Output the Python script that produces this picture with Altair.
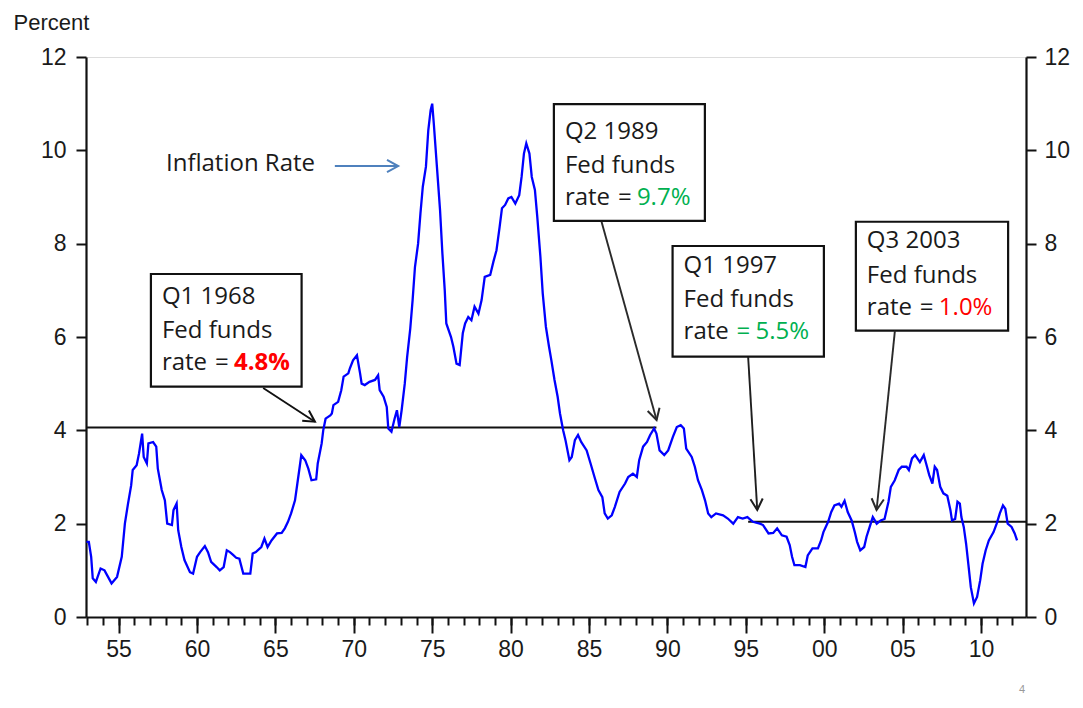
import math
import altair as alt
import pandas as pd

# ---- inflation series ----
years = [1952.95, 1953.1, 1953.25, 1953.35, 1953.55, 1953.85, 1954.1, 1954.55, 1954.9, 1955.2,
         1955.4, 1955.6, 1955.8, 1955.9, 1956.15, 1956.3, 1956.5, 1956.6, 1956.8, 1956.9,
         1957.2, 1957.4, 1957.5, 1957.75, 1957.95, 1958.1, 1958.4, 1958.5, 1958.7, 1958.8,
         1959.0, 1959.2, 1959.55, 1959.75, 1960.0, 1960.2, 1960.5, 1960.7, 1960.9, 1961.25,
         1961.45, 1961.7, 1961.9, 1962.1, 1962.3, 1962.5, 1962.7, 1962.95, 1963.1, 1963.4,
         1963.55, 1963.75, 1964.1, 1964.3, 1964.5, 1964.75, 1965.1, 1965.4, 1965.6, 1965.8,
         1966.0, 1966.25, 1966.4, 1966.55, 1966.65, 1966.9, 1967.1, 1967.3, 1967.6, 1967.7,
         1967.95, 1968.05, 1968.2, 1968.5, 1968.6, 1968.7, 1969.0, 1969.2, 1969.35, 1969.65,
         1969.75, 1969.95, 1970.2, 1970.4, 1970.5, 1970.7, 1971.0, 1971.35, 1971.55, 1971.65,
         1971.9, 1972.1, 1972.2, 1972.4, 1972.6, 1972.75, 1972.9, 1973.05, 1973.25, 1973.4,
         1973.6, 1973.75, 1973.9, 1974.1, 1974.25, 1974.4, 1974.6, 1974.75, 1974.9, 1975.0,
         1975.1, 1975.3, 1975.5, 1975.65, 1975.8, 1975.9, 1976.2, 1976.35, 1976.55, 1976.75,
         1976.95, 1977.1, 1977.3, 1977.5, 1977.7, 1977.95, 1978.15, 1978.35, 1978.7, 1978.9,
         1979.1, 1979.3, 1979.45, 1979.65, 1979.85, 1980.05, 1980.3, 1980.55, 1980.7, 1980.85,
         1981.0, 1981.2, 1981.35, 1981.55, 1981.7, 1981.9, 1982.05, 1982.25, 1982.45, 1982.6,
         1982.8, 1983.0, 1983.15, 1983.35, 1983.5, 1983.75, 1983.9, 1984.1, 1984.3, 1984.5,
         1984.85, 1985.1, 1985.35, 1985.6, 1985.85, 1986.0, 1986.2, 1986.45, 1986.65, 1986.95,
         1987.3, 1987.5, 1987.8, 1988.05, 1988.2, 1988.45, 1988.7, 1988.9, 1989.15, 1989.3,
         1989.5, 1989.8, 1990.05, 1990.35, 1990.6, 1990.85, 1991.05, 1991.2, 1991.55, 1991.75,
         1991.95, 1992.2, 1992.4, 1992.6, 1992.8, 1993.1, 1993.55, 1993.85, 1994.2, 1994.5,
         1994.8, 1995.1, 1995.45, 1995.9, 1996.1, 1996.45, 1996.75, 1997.0, 1997.3, 1997.6,
         1997.8, 1997.95, 1998.1, 1998.45, 1998.8, 1998.95, 1999.25, 1999.6, 1999.8, 1999.95,
         2000.25, 2000.45, 2000.65, 2000.95, 2001.1, 2001.3, 2001.5, 2001.75, 2001.95, 2002.1,
         2002.3, 2002.55, 2002.7, 2002.9, 2003.1, 2003.35, 2003.6, 2003.85, 2004.1, 2004.25,
         2004.5, 2004.75, 2004.95, 2005.25, 2005.4, 2005.6, 2005.8, 2006.1, 2006.35, 2006.5,
         2006.7, 2006.9, 2007.05, 2007.2, 2007.4, 2007.6, 2007.85, 2008.05, 2008.15, 2008.35,
         2008.5, 2008.65, 2008.75, 2008.9, 2009.05, 2009.2, 2009.35, 2009.55, 2009.75, 2009.95,
         2010.1, 2010.3, 2010.5, 2010.8, 2011.0, 2011.2, 2011.4, 2011.55, 2011.7, 2011.95,
         2012.15, 2012.3]
inflation = [1.61, 1.61, 1.29, 0.83, 0.75, 1.04, 1.0, 0.72, 0.86, 1.29,
             2.0, 2.43, 2.82, 3.15, 3.25, 3.5, 3.93, 3.43, 3.29, 3.72,
             3.75, 3.65, 3.18, 2.72, 2.5, 2.0, 1.97, 2.29, 2.43, 1.86,
             1.5, 1.22, 0.96, 0.93, 1.29, 1.39, 1.52, 1.39, 1.18, 1.07,
             1.0, 1.07, 1.43, 1.39, 1.33, 1.27, 1.25, 0.93, 0.93, 0.93,
             1.36, 1.39, 1.5, 1.68, 1.5, 1.64, 1.79, 1.8, 1.9, 2.04,
             2.22, 2.5, 2.86, 3.22, 3.47, 3.36, 3.18, 2.93, 2.95, 3.29,
             3.72, 4.0, 4.25, 4.32, 4.36, 4.54, 4.61, 4.86, 5.15, 5.22,
             5.33, 5.5, 5.61, 5.22, 5.0, 4.97, 5.04, 5.08, 5.18, 4.86,
             4.72, 4.5, 4.04, 3.97, 4.25, 4.43, 4.07, 4.43, 5.0, 5.57,
             6.18, 6.79, 7.5, 8.0, 8.65, 9.22, 9.65, 10.43, 10.86, 11.0,
             10.58, 9.65, 8.72, 7.79, 7.0, 6.29, 6.0, 5.79, 5.43, 5.4,
             6.08, 6.29, 6.43, 6.36, 6.65, 6.5, 6.79, 7.29, 7.33, 7.61,
             7.86, 8.36, 8.76, 8.83, 8.97, 9.0, 8.86, 9.04, 9.43, 9.93,
             10.15, 9.93, 9.43, 9.15, 8.58, 7.72, 6.93, 6.22, 5.79, 5.5,
             5.08, 4.72, 4.36, 4.0, 3.79, 3.36, 3.43, 3.79, 3.9, 3.75,
             3.57, 3.29, 3.0, 2.72, 2.57, 2.22, 2.11, 2.18, 2.36, 2.68,
             2.86, 3.0, 3.07, 3.0, 3.36, 3.65, 3.75, 3.9, 4.04, 3.93,
             3.57, 3.47, 3.57, 3.86, 4.07, 4.11, 4.04, 3.61, 3.43, 3.22,
             2.93, 2.72, 2.5, 2.22, 2.14, 2.22, 2.18, 2.11, 2.0, 2.14,
             2.11, 2.14, 2.04, 2.0, 1.97, 1.79, 1.8, 1.9, 1.75, 1.72,
             1.54, 1.29, 1.11, 1.11, 1.07, 1.32, 1.47, 1.47, 1.64, 1.82,
             2.04, 2.25, 2.39, 2.43, 2.36, 2.49, 2.25, 2.07, 1.82, 1.61,
             1.43, 1.5, 1.72, 1.93, 2.14, 2.0, 2.07, 2.1, 2.47, 2.79,
             2.93, 3.15, 3.22, 3.22, 3.15, 3.4, 3.47, 3.32, 3.47, 3.29,
             3.04, 2.86, 3.22, 3.15, 2.79, 2.65, 2.6, 2.29, 2.07, 2.1,
             2.47, 2.43, 2.14, 1.93, 1.57, 1.11, 0.64, 0.29, 0.43, 0.79,
             1.14, 1.43, 1.64, 1.82, 2.0, 2.22, 2.39, 2.32, 2.0, 1.93,
             1.79, 1.64]

XMIN, XMAX = 1952.92, 2012.87
W, H = 940, 560
x_ticks_major = [1955, 1960, 1965, 1970, 1975, 1980, 1985, 1990, 1995, 2000, 2005, 2010]
x_ticks_minor = list(range(1953, 2013))
y_ticks = [0, 2, 4, 6, 8, 10, 12]

# ---- horizontal reference lines ----
rule_x = [XMIN, 1995.15]
rule_x2 = [1989.3, XMAX]
rule_y = [4.06, 2.04]

# ---- annotation boxes ----
box_x = [1957.06, 1982.76, 1990.33, 2002.02]
box_x2 = [1966.67, 1992.39, 1999.98, 2011.73]
box_top = [7.35, 10.99, 7.95, 8.47]
box_bottom = [4.935, 8.49, 5.58, 6.135]
text_y = [6.865, 10.40, 7.526, 8.05]
line1 = ["Q1 1968", "Q2 1989", "Q1 1997", "Q3 2003"]
line2 = ["Fed funds", "Fed funds", "Fed funds", "Fed funds"]
rate_vals = ["4.8%", "9.7%", "5.5%", "1.0%"]
val_colors = ["#ff0000", "#00b050", "#00b050", "#ff0000"]
eq_colors = ["#1a1a1a", "#1a1a1a", "#00b050", "#1a1a1a"]
val_bold = [True, False, False, False]

# ---- arrows ----
arrow_x = [1964.22, 1985.80, 1995.15, 2004.51, 1968.79]
arrow_y = [4.907, 8.47, 5.57, 6.135, 9.664]
arrow_tx = [1967.52, 1989.31, 1995.73, 2003.34, 1972.83]
arrow_ty = [4.185, 4.22, 2.293, 2.293, 9.664]
arrow_colors = ["#111111", "#2a2a2a", "#1e1e1e", "#2a2a2a", "#4f81bd"]

ANN_FONT = "Open Sans"
ANN_SIZE = 24
AX_FONT = "Liberation Sans"
TXT = "#1a1a1a"

ppx = W / (XMAX - XMIN)
ppy = H / 12.0
angles = []
for x0, y0, x1, y1 in zip(arrow_x, arrow_y, arrow_tx, arrow_ty):
    dxp = (x1 - x0) * ppx
    dyp = -(y1 - y0) * ppy
    angles.append(math.degrees(math.atan2(dxp, -dyp)) % 360)

df = pd.DataFrame({"year": years, "value": inflation})
df_rules = pd.DataFrame({"x": rule_x, "x2": rule_x2, "y": rule_y})
df_box = pd.DataFrame({"x": box_x, "x2": box_x2, "top": box_top, "bottom": box_bottom,
                       "ty": text_y, "l1": line1, "l2": line2, "val": rate_vals,
                       "vc": val_colors, "ec": eq_colors, "bold": val_bold})
df_arr = pd.DataFrame({"x": arrow_x, "y": arrow_y, "tx": arrow_tx, "ty": arrow_ty,
                       "c": arrow_colors, "ang": angles})
df_label = pd.DataFrame({"x": [1958.02], "y": [9.71], "t": ["Inflation Rate"]})


def xs():
    return alt.Scale(domain=[XMIN, XMAX], nice=False, zero=False)


def ys():
    return alt.Scale(domain=[0, 12], nice=False, zero=False)


rules = alt.Chart(df_rules).mark_rule(color="#111111", strokeWidth=1.9).encode(
    x=alt.X("x:Q", scale=xs(), axis=None), x2="x2:Q",
    y=alt.Y("y:Q", scale=ys(), axis=None))

line = alt.Chart(df).mark_line(color="#0000ff", strokeWidth=2.3).encode(
    x=alt.X("year:Q", scale=xs(),
            axis=alt.Axis(orient="bottom", values=x_ticks_major, tickSize=16, tickWidth=2,
                          domainWidth=2.2, domainColor="#111111", tickColor="#111111",
                          labelExpr="format(datum.value % 100, '02d')", labelFont=AX_FONT,
                          labelFontSize=23, labelColor=TXT, labelPadding=5, grid=False,
                          title=None)),
    y=alt.Y("value:Q", scale=ys(),
            axis=alt.Axis(orient="left", values=y_ticks, tickSize=10, tickWidth=2,
                          domainWidth=2.2, domainColor="#111111", tickColor="#111111",
                          labelFont=AX_FONT, labelFontSize=23, labelColor=TXT,
                          labelPadding=10, grid=False, title="Percent", titleAngle=0,
                          titleAlign="left", titleBaseline="alphabetic", titleX=-73,
                          titleY=-28, titleFont=AX_FONT, titleFontSize=22,
                          titleFontWeight="normal", titleColor=TXT)))

boxes = alt.Chart(df_box).mark_rect(fill="white", stroke="#111111", strokeWidth=2.2).encode(
    x=alt.X("x:Q", scale=xs(), axis=None), x2="x2:Q",
    y=alt.Y("top:Q", scale=ys(), axis=None), y2="bottom:Q")

base_t = alt.Chart(df_box).encode(x=alt.X("x:Q", scale=xs(), axis=None),
                                  y=alt.Y("ty:Q", scale=ys(), axis=None))
tkw = dict(align="left", baseline="middle", font=ANN_FONT, fontSize=ANN_SIZE)
t1 = base_t.mark_text(dx=11, color=TXT, **tkw).encode(text="l1:N")
t2 = base_t.mark_text(dx=11, dy=34.5, color=TXT, **tkw).encode(text="l2:N")
t3 = base_t.mark_text(dx=11, dy=66.5, color=TXT, **tkw).encode(text=alt.value("rate"))
t4 = base_t.mark_text(dx=64, dy=66.5, **tkw).encode(text=alt.value("="),
                                                   color=alt.Color("ec:N", scale=None))
t5 = base_t.transform_filter("datum.bold").mark_text(dx=83, dy=66.5, fontWeight="bold", **tkw).encode(
    text="val:N", color=alt.Color("vc:N", scale=None))
t6 = base_t.transform_filter("!datum.bold").mark_text(dx=83, dy=66.5, **tkw).encode(
    text="val:N", color=alt.Color("vc:N", scale=None))

arr_lines = alt.Chart(df_arr).mark_rule(strokeWidth=1.9).encode(
    x=alt.X("x:Q", scale=xs(), axis=None), x2="tx:Q",
    y=alt.Y("y:Q", scale=ys(), axis=None), y2="ty:Q",
    color=alt.Color("c:N", scale=None))
arr_heads = alt.Chart(df_arr).mark_point(shape="M-0.55,1L0,0L0.55,1", filled=False,
                                         size=500, strokeWidth=2, opacity=1).encode(
    x=alt.X("tx:Q", scale=xs(), axis=None),
    y=alt.Y("ty:Q", scale=ys(), axis=None),
    angle=alt.Angle("ang:Q", scale=None),
    color=alt.Color("c:N", scale=None))

lbl = alt.Chart(df_label).mark_text(align="left", baseline="middle", font=ANN_FONT,
                                     fontSize=ANN_SIZE, color=TXT).encode(
    x=alt.X("x:Q", scale=xs(), axis=None), y=alt.Y("y:Q", scale=ys(), axis=None), text="t:N")

page = alt.Chart(pd.DataFrame({"t": ["4"]})).mark_text(
    font=AX_FONT, fontSize=11, color="#999999").encode(
    x=alt.value(936), y=alt.value(633), text="t:N")

minor = alt.Chart(df).mark_line(opacity=0).encode(
    x=alt.X("year:Q", scale=xs(),
            axis=alt.Axis(orient="bottom", values=x_ticks_minor, tickSize=8, tickWidth=2,
                          tickColor="#111111", labels=False, domain=False, grid=False,
                          title=None)),
    y=alt.Y("value:Q", scale=ys(),
            axis=alt.Axis(orient="right", values=y_ticks, tickSize=10, tickWidth=2,
                          domainWidth=2.2, domainColor="#111111", tickColor="#111111",
                          labelFont=AX_FONT, labelFontSize=23, labelColor=TXT,
                          labelPadding=8, grid=False, title=None)))

chart = alt.layer(rules, line, boxes, t1, t2, t3, t4, t5, t6, arr_lines, arr_heads, lbl,
                  page, minor).resolve_scale(x="independent", y="independent").properties(
    width=W, height=H, autosize="none",
    padding={"left": 78, "top": 49, "right": 45, "bottom": 81},
).configure_view(strokeWidth=0).configure(background="white")

chart.save("out.html", embed_options={"renderer": "svg", "actions": False})
